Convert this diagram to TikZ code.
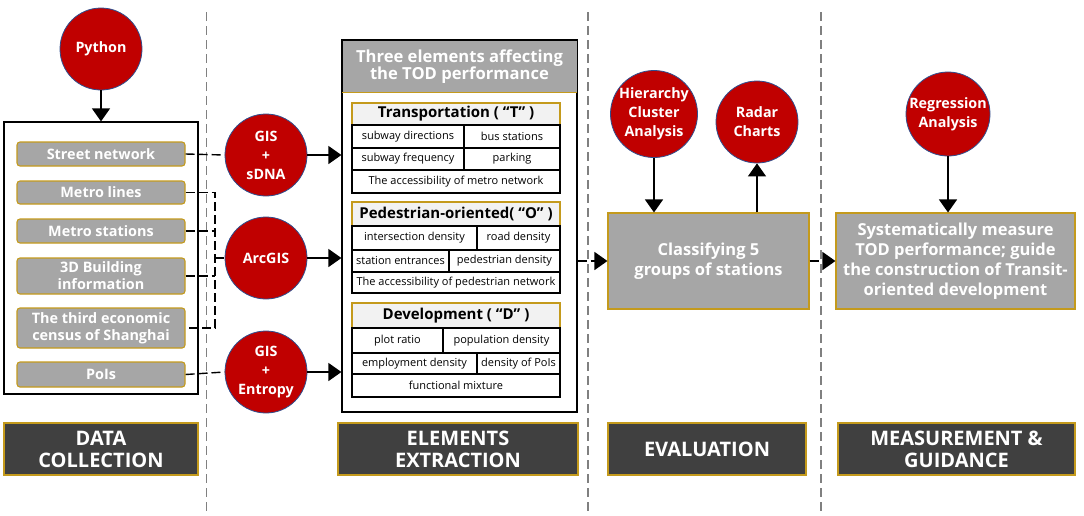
\documentclass[tikz,border=0pt]{standalone}
\usepackage{fontspec}
\setmainfont{Open Sans}
\usetikzlibrary{arrows.meta,calc}
\definecolor{redc}{HTML}{C00000}
\definecolor{blueb}{HTML}{2F4F8F}
\definecolor{grayf}{HTML}{A6A6A6}
\definecolor{gold}{HTML}{C49A1C}
\definecolor{darkf}{HTML}{404040}
\definecolor{lightf}{HTML}{F2F2F2}
\definecolor{sep}{HTML}{808080}
\tikzset{
  redcirc/.style={circle,fill=redc,draw=blueb,line width=0.8pt,minimum size=82pt,inner sep=0pt,
    text=white,font=\bfseries\fontsize{14.3}{19}\selectfont,align=center},
  item/.style={rounded corners=3pt,fill=grayf,draw=gold,line width=1.1pt,minimum width=168pt,inner sep=0pt,
    text=white,font=\bfseries\fontsize{14.4}{17}\selectfont,align=center},
  phase/.style={fill=darkf,draw=gold,line width=1.1pt,minimum height=52pt,inner sep=0pt,
    text=white,font=\bfseries\fontsize{20}{22}\selectfont,align=center},
  bigbox/.style={fill=grayf,draw=gold,line width=1.1pt,minimum height=96pt,inner sep=0pt,
    text=white,font=\bfseries\fontsize{16.5}{20}\selectfont,align=center},
  thead/.style={fill=lightf,draw=gold,line width=1.1pt,minimum width=208pt,inner sep=0pt,
    font=\bfseries\fontsize{15}{17}\selectfont},
  cellx/.style={draw=black,line width=1.2pt,inner sep=0pt,font=\fontsize{11}{13}\selectfont},
  arr/.style={line width=1.4pt,-{Triangle[width=18pt,length=13pt]}},
  darr/.style={line width=1.4pt,dash pattern=on 9pt off 4pt,-{Triangle[width=18pt,length=13pt]}},
  dline/.style={line width=1.4pt,dash pattern=on 9pt off 4pt},
  sepline/.style={draw=sep,line width=1.5pt,dash pattern=on 9pt off 5pt},
}
\newcommand{\cellat}[6]{\node[cellx,minimum width={#4-#2},minimum height={#5-#3}] (#1) at ({(#2+#4)/2},{(#3+#5)/2}) {#6};}
\begin{document}
\begin{tikzpicture}[x=1pt,y=-1pt]
\useasboundingbox (0,0) rectangle (1084,515);
% separators
\draw[sepline] (206.5,12) -- (206.5,512);
\draw[sepline] (588,12) -- (588,512);
\draw[sepline] (821,12) -- (821,512);

% Data collection
\node[redcirc] (py) at (101,49) {Python};
\node[draw=black,line width=1.2pt,minimum width=194pt,minimum height=272pt,inner sep=0pt] (data) at (101,258) {};
\node[item,minimum height=24pt] (sn) at (101,154) {Street network};
\node[item,minimum height=23pt] (ml) at (101,192.5) {Metro lines};
\node[item,minimum height=24pt] (ms) at (101,231) {Metro stations};
\node[item,minimum height=36pt] (bi) at (101,276) {3D Building\\information};
\node[item,minimum height=40pt] (tec) at (101,328) {The third economic\\census of Shanghai};
\node[item,minimum height=25pt] (poi) at (101,374.5) {PoIs};
\draw[arr] (py.south) -- (data.north);

% Tool circles
\node[redcirc] (gs) at (266,155) {GIS\\+\\sDNA};
\node[redcirc] (arc) at (266,258) {ArcGIS};
\node[redcirc] (ge) at (266,372) {GIS\\+\\Entropy};

\draw[dline] (sn.east) -- (gs.west);
\coordinate (br) at (215,258);
\draw[dline] (ml.east) -- (ml.east -| br) -- (tec.east -| br) -- (tec.east);
\draw[dline] (ms.east) -- (ms.east -| br);
\draw[dline] (bi.east) -- (bi.east -| br);
\draw[dline] (br) -- (arc.west);
\draw[dline] (poi.east) -- (ge.west);

% Elements box
\node[draw=black,line width=1.2pt,minimum width=235pt,minimum height=372pt,inner sep=0pt] (elem) at (459.5,226) {};
\node[fill=grayf,minimum width=234pt,minimum height=52pt,inner sep=0pt,text=white,
  font=\bfseries\fontsize{16.6}{17.5}\selectfont,align=center] (eh) at (459.5,66.5) {Three elements affecting\\the TOD performance};
\draw[gold,line width=1.1pt] (eh.south west) -- (eh.south east);

\draw[arr] (gs.east) -- (gs.east -| elem.west);
\draw[arr] (arc.east) -- (arc.east -| elem.west);
\draw[arr] (ge.east) -- (ge.east -| elem.west);

% T table
\node[thead,minimum height=22pt] (th) at (456,114) {Transportation ( “T” )};
\cellat{t11}{352}{125}{464}{148}{subway directions}
\cellat{t12}{464}{125}{560}{148}{bus stations}
\cellat{t21}{352}{148}{464}{170}{subway frequency}
\cellat{t22}{464}{148}{560}{170}{parking}
\cellat{t3}{352}{170}{560}{193}{The accessibility of metro network}
% O table
\node[thead,minimum height=24pt] (oh) at (456,214) {Pedestrian-oriented( “O” )};
\cellat{o11}{352}{226}{477}{250}{intersection density}
\cellat{o12}{477}{226}{560}{250}{road density}
\cellat{o21}{352}{250}{449}{272}{station entrances}
\cellat{o22}{449}{250}{560}{272}{pedestrian density}
\cellat{o3}{352}{272}{560}{293}{The accessibility of pedestrian network}
% D table
\node[thead,minimum height=25pt] (dh) at (456,315.5) {Development ( “D” )};
\cellat{d11}{352}{328}{443}{353}{plot ratio}
\cellat{d12}{443}{328}{560}{353}{population density}
\cellat{d21}{352}{353}{477}{374}{employment density}
\cellat{d22}{477}{353}{560}{374}{density of PoIs}
\cellat{d3}{352}{374}{560}{397}{functional mixture}

% Evaluation
\node[bigbox,minimum width=201pt] (cls) at (708.5,261) {Classifying 5\\groups of stations};
\node[redcirc] (hca) at (654,114) {Hierarchy\\Cluster\\Analysis};
\node[redcirc] (rad) at (757,122) {Radar\\Charts};
\draw[arr] (hca.south) -- (hca.south |- cls.north);
\draw[arr] (rad.south |- cls.north) -- (rad.south);
\draw[darr] (cls.west -| elem.east) -- (cls.west);

% Measurement
\node[bigbox,minimum width=239pt] (sys) at (955.5,261) {Systematically measure\\TOD performance; guide\\the construction of Transit-\\oriented development};
\node[redcirc] (reg) at (948,114) {Regression\\Analysis};
\draw[arr] (reg.south) -- (reg.south |- sys.north);
\draw[darr] (cls.east) -- (sys.west);

% Phase labels
\node[phase,minimum width=194pt] (p1) at (101,449) {DATA\\COLLECTION};
\node[phase,minimum width=240pt] (p2) at (458,449) {ELEMENTS\\EXTRACTION};
\node[phase,minimum width=198pt] (p3) at (707,449) {EVALUATION};
\node[phase,minimum width=237pt] (p4) at (956.5,449) {MEASUREMENT \&\\GUIDANCE};
\end{tikzpicture}
\end{document}
